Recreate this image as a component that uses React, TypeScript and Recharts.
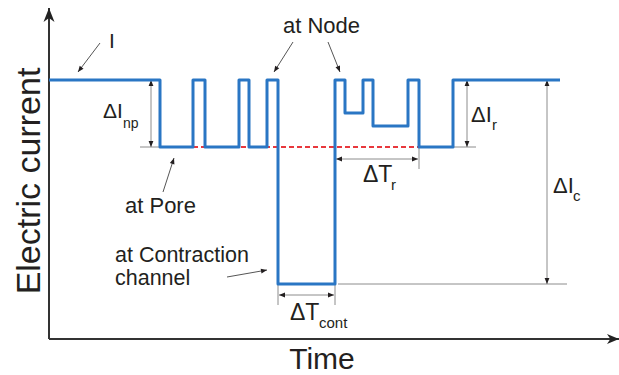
import { LineChart, Line, XAxis, YAxis, ReferenceLine, ReferenceDot } from 'recharts'

// current trace of one translocation event (time in ms, current in pA, arbitrary offset)
const times = [0, 111, 144, 156, 190, 200, 218, 229, 286, 296, 314, 324, 359, 370, 404, 511]
const currents = [259, 192, 259, 192, 259, 192, 259, 55, 259, 226, 259, 213, 259, 192, 259, 259]

// characteristic levels and instants used by the annotations
const openLevel = 259
const poreLevel = 192
const contractionLevel = 55
const contractionStart = 229
const contractionEnd = 286
const recoveryEnd = 370
const poreLineStart = 144

const data = times.map((t, i) => ({ t, current: currents[i] }))

const INK = '#231f20'
const GUIDE = '#8c8c8c'
const FONT = '"Liberation Sans", Arial, Helvetica, sans-serif'

type Heads = 'end' | 'both' | 'none'

function head(tx: number, ty: number, ux: number, uy: number, len: number, half: number, color: string, notch = false) {
  const bx = tx - ux * len
  const by = ty - uy * len
  const nx = -uy
  const ny = ux
  const mid = notch ? `${tx - ux * len * 0.72},${ty - uy * len * 0.72} ` : ''
  return (
    <polygon
      points={`${tx},${ty} ${bx + nx * half},${by + ny * half} ${mid}${bx - nx * half},${by - ny * half}`}
      fill={color}
    />
  )
}

function arrow(heads: Heads, lineColor: string, width = 1, headColor = INK, len = 6, half = 2.4, notch = false) {
  return (p: any) => {
    const { x1, y1, x2, y2 } = p
    const dx = x2 - x1
    const dy = y2 - y1
    const d = Math.hypot(dx, dy) || 1
    const ux = dx / d
    const uy = dy / d
    return (
      <g>
        <line x1={x1} y1={y1} x2={x2} y2={y2} stroke={lineColor} strokeWidth={width} />
        {heads !== 'none' && head(x2, y2, ux, uy, len, half, headColor, notch)}
        {heads === 'both' && head(x1, y1, -ux, -uy, len, half, headColor, notch)}
      </g>
    )
  }
}

function note(main: string, sub?: string, size = 22, subDx = 20, subDy = 8, subSize = 15) {
  return (p: any) => (
    <text x={p.cx} y={p.cy} fill={INK} fontFamily={FONT} fontSize={size}>
      {main}
      {sub && (
        <tspan x={p.cx + subDx} y={p.cy + subDy} fontSize={subSize}>
          {sub}
        </tspan>
      )}
    </text>
  )
}

function seg(x1: number, y1: number, x2: number, y2: number) {
  return [{ x: x1, y: y1 }, { x: x2, y: y2 }] as any
}

export default function App() {
  return (
    <div style={{ position: 'absolute', left: 0, top: 0, width: 619, height: 375, background: '#fff' }}>
      <LineChart width={619} height={375} data={data} margin={{ top: 8, right: 0, left: 49, bottom: 36 }}>
        <XAxis type="number" dataKey="t" domain={[0, 570]} allowDataOverflow hide />
        <YAxis type="number" domain={[0, 331]} allowDataOverflow hide />

        {/* axes */}
        <ReferenceLine segment={seg(0, 0, 0, 331)} ifOverflow="visible" shape={arrow('end', '#333', 2, '#222', 14, 5.5, true)} />
        <ReferenceLine segment={seg(0, 0, 570, 0)} ifOverflow="visible" shape={arrow('end', '#333', 2, '#222', 12, 5, true)} />

        {/* pore baseline */}
        <ReferenceLine
          segment={seg(poreLineStart, poreLevel, recoveryEnd, poreLevel)}
          ifOverflow="visible"
          stroke="#e8383d"
          strokeWidth={2}
          strokeDasharray="5 3"
        />

        {/* guide ticks */}
        <ReferenceLine segment={seg(91, poreLevel, 111, poreLevel)} ifOverflow="visible" stroke={GUIDE} />
        <ReferenceLine segment={seg(404, poreLevel, 427, poreLevel)} ifOverflow="visible" stroke={GUIDE} />
        <ReferenceLine segment={seg(289, contractionLevel, 518, contractionLevel)} ifOverflow="visible" stroke={GUIDE} />
        <ReferenceLine segment={seg(contractionStart, contractionLevel, contractionStart, 34)} ifOverflow="visible" stroke={GUIDE} />
        <ReferenceLine segment={seg(contractionEnd, contractionLevel, contractionEnd, 34)} ifOverflow="visible" stroke={GUIDE} />
        <ReferenceLine segment={seg(recoveryEnd, poreLevel, recoveryEnd, 170)} ifOverflow="visible" stroke={GUIDE} />

        {/* dimension arrows */}
        <ReferenceLine segment={seg(102, openLevel, 102, poreLevel)} ifOverflow="visible" shape={arrow('both', GUIDE)} />
        <ReferenceLine segment={seg(418, openLevel, 418, poreLevel)} ifOverflow="visible" shape={arrow('both', GUIDE)} />
        <ReferenceLine segment={seg(498, openLevel, 498, contractionLevel)} ifOverflow="visible" shape={arrow('both', GUIDE)} />
        <ReferenceLine segment={seg(contractionStart + 1, 44, contractionEnd - 1, 44)} ifOverflow="visible" shape={arrow('both', GUIDE)} />
        <ReferenceLine segment={seg(contractionEnd + 1, 180, recoveryEnd - 1, 180)} ifOverflow="visible" shape={arrow('both', GUIDE)} />

        {/* pointers */}
        <ReferenceLine segment={seg(51, 296, 29, 267)} ifOverflow="visible" shape={arrow('end', '#555')} />
        <ReferenceLine segment={seg(244, 297, 225, 267)} ifOverflow="visible" shape={arrow('end', '#555')} />
        <ReferenceLine segment={seg(279, 297, 291, 267)} ifOverflow="visible" shape={arrow('end', '#555')} />
        <ReferenceLine segment={seg(114, 147, 125, 181)} ifOverflow="visible" shape={arrow('end', '#555')} />
        <ReferenceLine segment={seg(178, 62, 218, 69)} ifOverflow="visible" shape={arrow('end', '#555')} />

        <Line
          type="stepAfter"
          dataKey="current"
          stroke="#2a76c4"
          strokeWidth={3}
          strokeLinejoin="round"
          dot={false}
          isAnimationActive={false}
        />

        {/* labels */}
        <ReferenceDot x={60} y={291} ifOverflow="visible" shape={note('I', undefined, 21)} />
        <ReferenceDot x={234} y={306} ifOverflow="visible" shape={note('at Node')} />
        <ReferenceDot x={54} y={221} ifOverflow="visible" shape={note('ΔI', 'np', 21, 20, 10, 14)} />
        <ReferenceDot x={76} y={126} ifOverflow="visible" shape={note('at Pore')} />
        <ReferenceDot x={66} y={77} ifOverflow="visible" shape={note('at Contraction', undefined, 21.5)} />
        <ReferenceDot x={66} y={54} ifOverflow="visible" shape={note('channel', undefined, 21.5)} />
        <ReferenceDot x={241} y={19} ifOverflow="visible" shape={note('ΔT', 'cont', 23, 29, 8, 15)} />
        <ReferenceDot x={314} y={157} ifOverflow="visible" shape={note('ΔT', 'r', 23, 28, 8, 15)} />
        <ReferenceDot x={422} y={217} ifOverflow="visible" shape={note('ΔI', 'r', 22, 21, 8, 15)} />
        <ReferenceDot x={504} y={146} ifOverflow="visible" shape={note('ΔI', 'c', 22, 20, 8, 15)} />

        {/* axis titles */}
        <ReferenceDot
          x={-9}
          y={158}
          ifOverflow="visible"
          shape={(p: any) => (
            <text
              x={p.cx}
              y={p.cy}
              transform={`rotate(-90 ${p.cx} ${p.cy})`}
              textAnchor="middle"
              fill={INK}
              fontFamily={FONT}
              fontSize={34}
            >
              Electric current
            </text>
          )}
        />
        <ReferenceDot
          x={273}
          y={-30}
          ifOverflow="visible"
          shape={(p: any) => (
            <text x={p.cx} y={p.cy} textAnchor="middle" fill={INK} fontFamily={FONT} fontSize={30}>
              Time
            </text>
          )}
        />
      </LineChart>
    </div>
  )
}
